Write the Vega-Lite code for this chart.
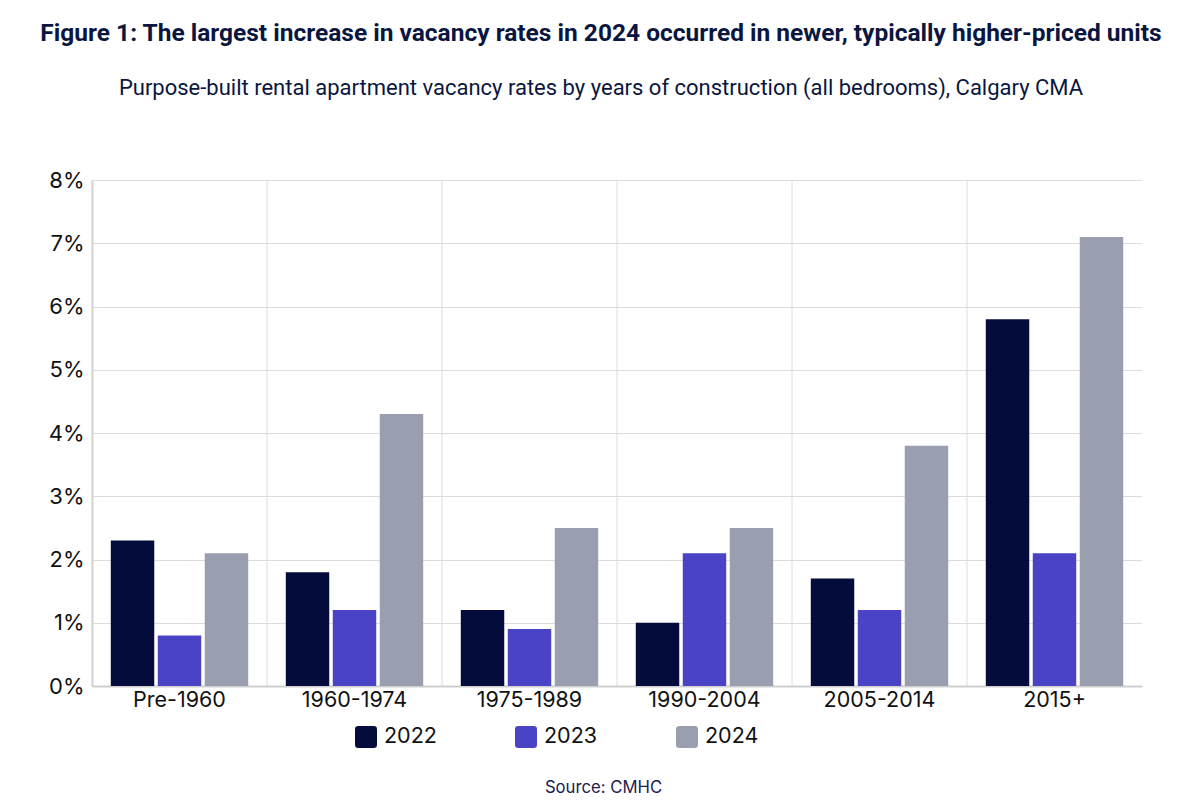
{
  "$schema": "https://vega.github.io/schema/vega-lite/v6.json",
  "width": 1050,
  "height": 506,
  "autosize": {"type": "none"},
  "padding": {"left": 92, "top": 180, "right": 58, "bottom": 122},
  "background": "white",
  "title": {
    "text": "Figure 1: The largest increase in vacancy rates in 2024 occurred in newer, typically higher-priced units",
    "subtitle": "Purpose-built rental apartment vacancy rates by years of construction (all bedrooms), Calgary CMA",
    "anchor": "middle",
    "dx": -16,
    "font": "Roboto",
    "fontSize": 24.5,
    "fontWeight": "bold",
    "color": "#0b1640",
    "subtitleFont": "Roboto",
    "subtitleFontSize": 22,
    "subtitleColor": "#0b1640",
    "subtitlePadding": 32,
    "offset": 69
  },
  "data": {
    "values": [
      {"period": "Pre-1960", "year": "2022", "rate": 2.3},
      {"period": "Pre-1960", "year": "2023", "rate": 0.8},
      {"period": "Pre-1960", "year": "2024", "rate": 2.1},
      {"period": "1960-1974", "year": "2022", "rate": 1.8},
      {"period": "1960-1974", "year": "2023", "rate": 1.2},
      {"period": "1960-1974", "year": "2024", "rate": 4.3},
      {"period": "1975-1989", "year": "2022", "rate": 1.2},
      {"period": "1975-1989", "year": "2023", "rate": 0.9},
      {"period": "1975-1989", "year": "2024", "rate": 2.5},
      {"period": "1990-2004", "year": "2022", "rate": 1.0},
      {"period": "1990-2004", "year": "2023", "rate": 2.1},
      {"period": "1990-2004", "year": "2024", "rate": 2.5},
      {"period": "2005-2014", "year": "2022", "rate": 1.7},
      {"period": "2005-2014", "year": "2023", "rate": 1.2},
      {"period": "2005-2014", "year": "2024", "rate": 3.8},
      {"period": "2015+", "year": "2022", "rate": 5.8},
      {"period": "2015+", "year": "2023", "rate": 2.1},
      {"period": "2015+", "year": "2024", "rate": 7.1}
    ]
  },
  "resolve": {"scale": {"x": "independent"}, "axis": {"x": "independent"}},
  "layer": [
    {
      "transform": [{"filter": "datum.year == '2022'"}],
      "mark": {"type": "rule", "color": "#dcdcdc", "strokeWidth": 1},
      "encoding": {
        "x": {
          "field": "period",
          "type": "nominal",
          "sort": ["Pre-1960", "1960-1974", "1975-1989", "1990-2004", "2005-2014", "2015+"],
          "scale": {"paddingInner": 0, "paddingOuter": 0},
          "bandPosition": 0,
          "axis": null
        }
      }
    },
    {
      "mark": {"type": "bar"},
      "encoding": {
        "x": {
          "field": "period",
          "type": "nominal",
          "sort": ["Pre-1960", "1960-1974", "1975-1989", "1990-2004", "2005-2014", "2015+"],
          "scale": {"paddingInner": 0, "paddingOuter": 0},
          "title": "Source: CMHC",
          "axis": {
            "labelAngle": 0,
            "labelFont": "Inter",
            "labelFontSize": 21.5,
            "labelColor": "#111111",
            "labelPadding": 3,
            "ticks": false,
            "domain": true,
            "domainColor": "#cfcfcf",
            "domainWidth": 2,
            "grid": false,
            "titleFont": "Inter",
            "titleFontSize": 16.7,
            "titleFontWeight": "normal",
            "titleColor": "#1a2050",
            "titleX": 511,
            "titleAnchor": "middle",
            "titleAlign": "center",
            "titlePadding": 69
          }
        },
        "xOffset": {
          "field": "year",
          "type": "nominal",
          "sort": ["2022", "2023", "2024"],
          "scale": {"paddingInner": 0.075, "paddingOuter": 0.4}
        },
        "y": {
          "field": "rate",
          "type": "quantitative",
          "scale": {"domain": [0, 8], "nice": false},
          "axis": {
            "values": [0, 1, 2, 3, 4, 5, 6, 7, 8],
            "labelExpr": "datum.value + '%'",
            "title": null,
            "grid": true,
            "gridColor": "#dcdcdc",
            "domain": true,
            "domainColor": "#cfcfcf",
            "domainWidth": 2,
            "ticks": false,
            "labelFont": "Inter",
            "labelFontSize": 22,
            "labelColor": "#111111",
            "labelPadding": 8
          }
        },
        "color": {
          "field": "year",
          "type": "nominal",
          "scale": {"domain": ["2022", "2023", "2024"], "range": ["#030c3a", "#4b43c6", "#9a9fb0"]},
          "legend": {
            "orient": "none",
            "legendX": 263,
            "legendY": 546,
            "direction": "horizontal",
            "title": null,
            "symbolType": "M-0.7,-1H0.7Q1,-1 1,-0.7V0.7Q1,1 0.7,1H-0.7Q-1,1 -1,0.7V-0.7Q-1,-1 -0.7,-1Z",
            "symbolSize": 484,
            "symbolStrokeWidth": 0,
            "symbolOpacity": 1,
            "labelFont": "Inter",
            "labelFontSize": 21.5,
            "labelColor": "#111111",
            "labelOffset": 7,
            "columnPadding": 78
          }
        }
      }
    }
  ],
  "config": {"view": {"stroke": null}}
}
